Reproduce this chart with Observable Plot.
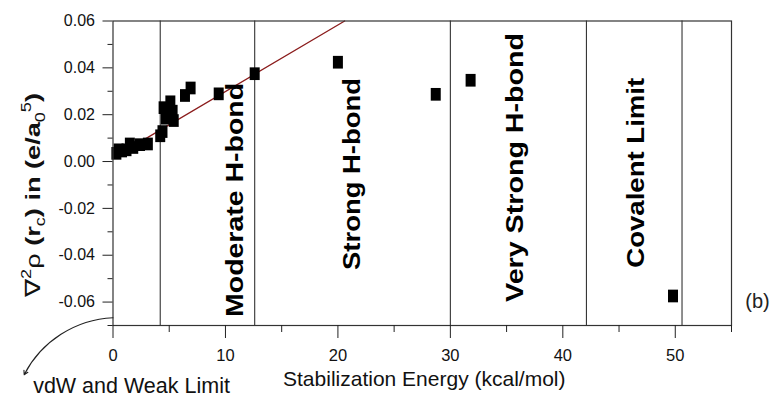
<!DOCTYPE html>
<html>
<head>
<meta charset="utf-8">
<script src="https://cdn.jsdelivr.net/npm/d3@7"></script>
<script src="https://cdn.jsdelivr.net/npm/@observablehq/plot@0.6"></script>
<style>
  html, body { margin: 0; padding: 0; background: #fff; }
  #chart { width: 770px; height: 398px; }
</style>
</head>
<body>
<div id="chart"></div>
<script>
// ---- data ----
const xTicks = [0, 10, 20, 30, 40, 50];
const xMinorTicks = [5, 15, 25, 35, 45, 55];
const yTicks = [-0.06, -0.04, -0.02, 0, 0.02, 0.04, 0.06];
const yMinorTicks = [-0.07, -0.05, -0.03, -0.01, 0.01, 0.03, 0.05];

const energy = [0.3, 0.5, 0.8, 1.2, 1.5, 1.8, 2.4, 3.1, 4.2, 4.4, 4.5, 4.7, 5.1, 5.3, 5.4, 6.4, 6.9, 9.4, 12.6, 20.0, 28.7, 31.8, 49.8];
const laplacian = [0.0035, 0.0050, 0.0045, 0.0050, 0.0075, 0.0060, 0.0072, 0.0075, 0.0110, 0.0128, 0.0230, 0.0185, 0.0255, 0.0215, 0.0175, 0.0282, 0.0314, 0.0289, 0.0375, 0.0424, 0.0287, 0.0347, -0.0574];

const boundaries = [4.2, 12.6, 30.0, 42.1, 50.6];

const regionNames = ["Moderate H-bond", "Strong H-bond", "Very Strong H-bond", "Covalent Limit"];
const regionX = [10.9, 21.3, 35.8, 46.6];
const regionY = [-0.0164, -0.0053, -0.0025, -0.0048];

const fitX = [0.2, 20.6];
const fitY = [0.0021, 0.06];

const xLabel = "Stabilization Energy (kcal/mol)";
const weakLabel = "vdW and Weak Limit";
const panelLabel = "(b)";
const panelY = -0.0596;
const arrowFrom = [0, -0.0667];
const arrowTo = [-7.9, -0.0910];

// ---- rendering ----
const points = energy.map((e, i) => ({e, v: laplacian[i]}));
const fit = fitX.map((x, i) => ({x, y: fitY[i]}));
const tallSquare = {
  draw(context, size) {
    const s = Math.sqrt(size);
    const w = s, h = s * 1.27;
    context.rect(-w / 2, -h / 2, w, h);
  }
};
const font = "'Liberation Sans', Arial, sans-serif";

const svg = Plot.plot({
  width: 770,
  height: 398,
  marginLeft: 112.5,
  marginRight: 39,
  marginTop: 20.5,
  marginBottom: 73,
  x: {domain: [0, 55]},
  y: {domain: [-0.07, 0.06]},
  style: {fontFamily: font, background: "white", color: "#111", overflow: "visible"},
  marks: [
    Plot.ruleX(boundaries, {stroke: "#333", strokeWidth: 1.1}),
    Plot.line(fit, {x: "x", y: "y", stroke: "#8b1c1c", strokeWidth: 1.3}),
    Plot.dot(points, {x: "e", y: "v", symbol: tallSquare, r: 5.64, fill: "#000", stroke: null}),
    Plot.text(regionNames, {x: regionX, y: regionY, text: d => d, rotate: -90, fontSize: 23, fontWeight: "bold", fill: "#000"}),
    Plot.frame({stroke: "#333", strokeWidth: 1.2}),
    Plot.axisX({ticks: xTicks, tickSize: 13, tickPadding: 11, fontSize: 16.5, label: null, stroke: "#222"}),
    Plot.axisX({ticks: xMinorTicks, tickSize: 7, tickFormat: () => "", label: null, stroke: "#222"}),
    Plot.axisY({ticks: yTicks, tickSize: 10, tickPadding: 8, fontSize: 16, tickFormat: d => d.toFixed(2), label: null, stroke: "#222"}),
    Plot.axisY({ticks: yMinorTicks, tickSize: 5, tickFormat: () => "", label: null, stroke: "#222"}),
    Plot.text([xLabel], {frameAnchor: "bottom", textAnchor: "middle", lineAnchor: "middle", dx: 2, dy: 54, fontSize: 21, fill: "#111"}),
    Plot.text([weakLabel], {frameAnchor: "bottom-left", textAnchor: "middle", lineAnchor: "middle", dx: 18.5, dy: 61, fontSize: 21.5, fill: "#111"}),
    Plot.text([panelLabel], {x: [55], y: [panelY], dx: 26, fontSize: 20, fill: "#222"}),
    Plot.arrow([0], {x1: [arrowFrom[0]], y1: [arrowFrom[1]], x2: [arrowTo[0]], y2: [arrowTo[1]], bend: -30, headLength: 6, stroke: "#222", strokeWidth: 1.1})
  ]
});

// stretch region labels along their length as in the original
const regionLength = {"Moderate H-bond": 234, "Strong H-bond": 192, "Very Strong H-bond": 269, "Covalent Limit": 190};
d3.select(svg).selectAll("text").each(function() {
  const t = this.textContent;
  if (regionLength[t]) {
    d3.select(this).attr("textLength", regionLength[t]).attr("lengthAdjust", "spacingAndGlyphs");
  }
});

// y-axis label with sub/superscripts
const yl = d3.select(svg).append("text")
  .attr("transform", "translate(40,195) rotate(-90)")
  .attr("text-anchor", "middle")
  .attr("font-family", font)
  .attr("font-size", 21)
  .attr("fill", "#111")
  .attr("textLength", 204)
  .attr("lengthAdjust", "spacingAndGlyphs");
yl.append("tspan").text("\u2207");
yl.append("tspan").attr("font-size", 14).attr("dy", -9).text("2");
yl.append("tspan").attr("dy", 9).text("\u03c1");
yl.append("tspan").attr("font-weight", "bold").text(" (r");
yl.append("tspan").attr("font-size", 14).attr("dy", 5).text("c");
yl.append("tspan").attr("font-weight", "bold").attr("dy", -5).text(")");
yl.append("tspan").attr("font-weight", "bold").text(" in (e/a");
yl.append("tspan").attr("font-size", 14).attr("dy", 5).text("0");
yl.append("tspan").attr("font-size", 14).attr("dy", -14).text("5");
yl.append("tspan").attr("font-weight", "bold").attr("dy", 9).text(")");

document.getElementById("chart").appendChild(svg);
</script>
</body>
</html>
